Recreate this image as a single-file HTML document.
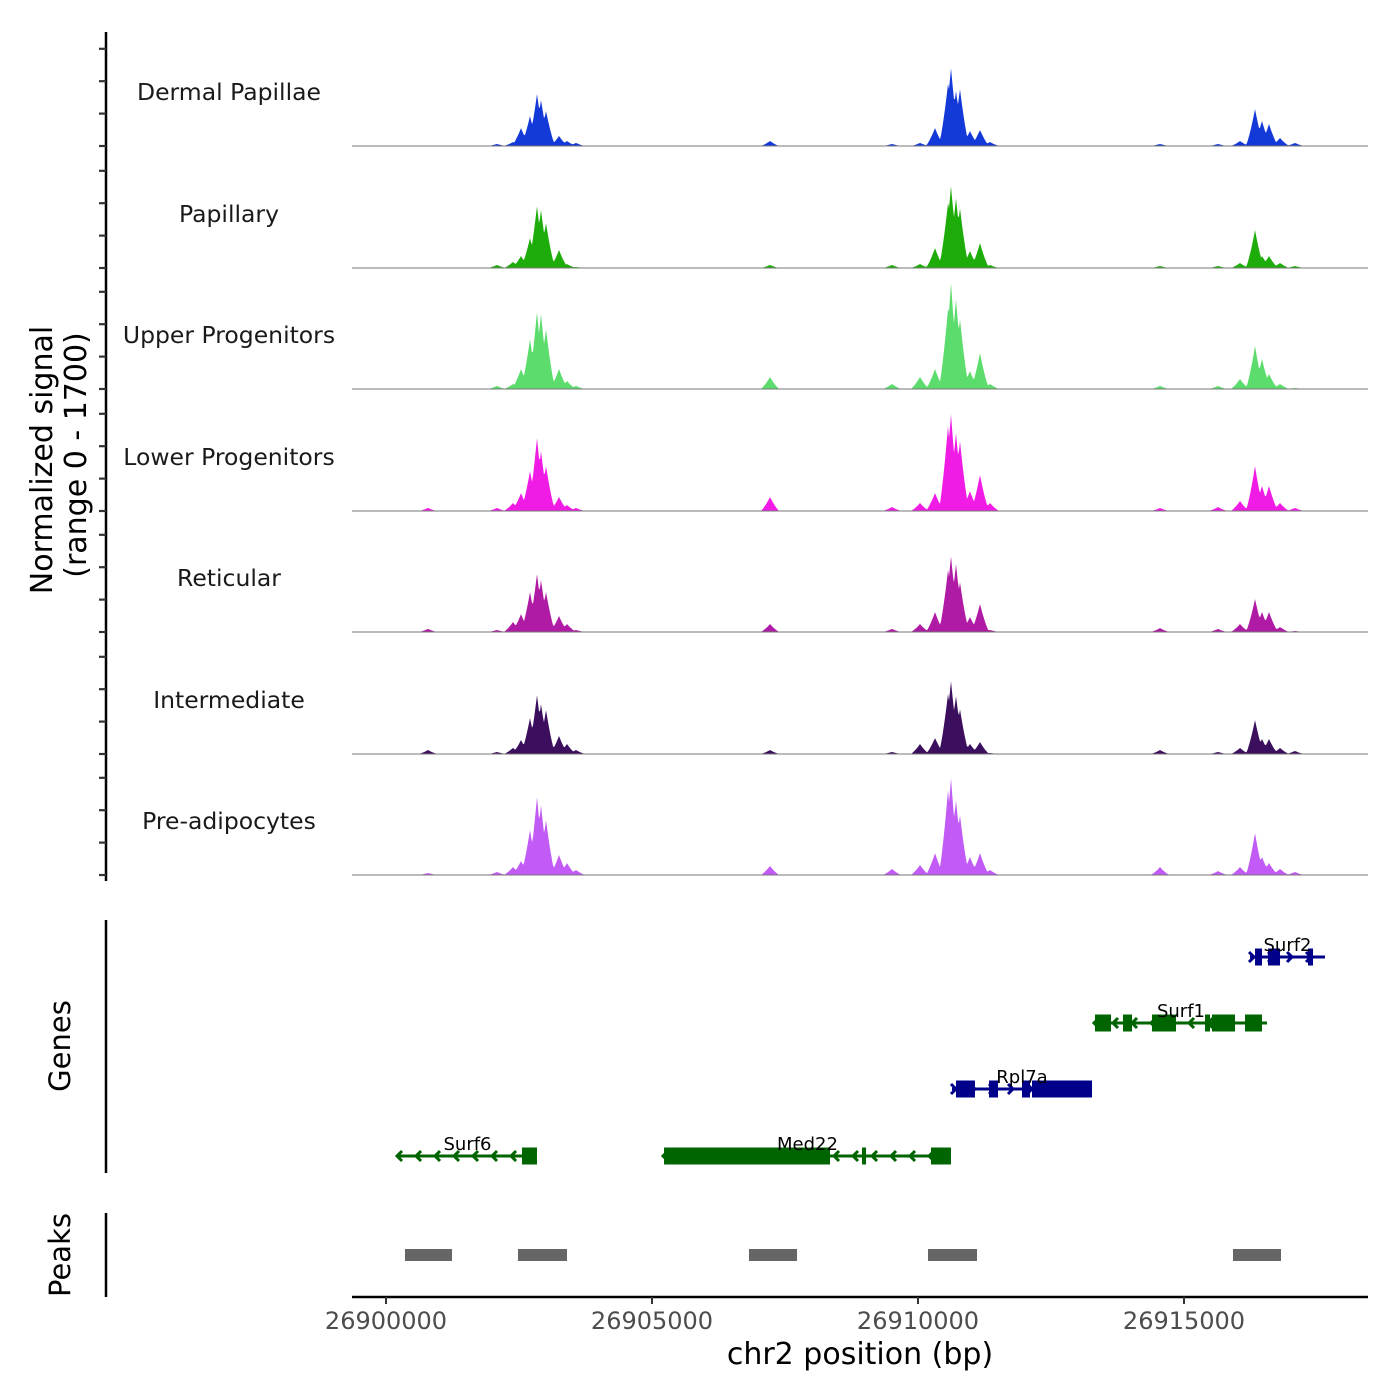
<!DOCTYPE html>
<html><head><meta charset="utf-8"><style>
body{margin:0;background:#fff}
svg{display:block;font-family:"DejaVu Sans","Liberation Sans",sans-serif}
</style></head><body>
<svg id="chart" width="1400" height="1400" viewBox="0 0 1400 1400"></svg>
<script>
const peakPos=[789,2086,2387,2538,2707,2838,2914,3008,3252,3402,3571,7218,9511,10038,10320,10564,10620,10714,10789,10977,11165,11353,14549,15639,16053,16335,16466,16598,16805,17086];
const trackNames=["Dermal Papillae","Papillary","Upper Progenitors","Lower Progenitors","Reticular","Intermediate","Pre-adipocytes"];
const trackColors=["#1439d9","#1eac0a","#5cdc6c","#f01ce6","#b01ba6","#3b0f5e","#c25af5"];
const sigDermal=[0,2,4,18,30,52,46,35,10,5,3,5,2,3,18,62,78,55,57,15,16,4,2,2,5,37,25,22,8,3];
const sigPapillary=[0,3,6,12,30,62,58,45,18,4,1,3,3,4,20,65,82,70,60,17,25,3,2,2,5,38,12,12,5,2];
const sigUpper=[0,3,5,20,50,77,75,60,20,8,3,12,5,12,20,80,106,90,70,18,36,5,3,3,10,43,30,15,5,1];
const sigLower=[3,3,8,18,40,73,60,45,14,6,3,14,4,8,18,85,97,78,70,20,36,8,3,4,10,45,25,25,8,3];
const sigReticular=[3,2,10,18,40,58,52,40,16,8,2,8,3,8,20,62,76,68,50,15,28,2,4,3,8,33,20,20,5,1];
const sigIntermediate=[4,2,6,14,36,59,50,44,18,10,4,4,2,10,16,60,73,58,45,10,12,1,4,2,6,34,15,15,6,3];
const sigPreadipo=[2,3,8,14,45,78,70,55,20,12,5,9,6,10,22,85,97,75,60,18,22,5,8,4,8,42,18,12,6,3];
const trackSignals=[sigDermal,sigPapillary,sigUpper,sigLower,sigReticular,sigIntermediate,sigPreadipo];
const xTicks=[26900000,26905000,26910000,26915000];
const peakStarts=[357,2481,6823,10188,15921];
const peakEnds=[1241,3402,7726,11109,16823];
const geneNames=["Surf6","Med22","Rpl7a","Surf1","Surf2"];
const geneStarts=[226,5226,10639,13327,16241];
const geneEnds=[2838,10620,13271,16560,17650];
const geneStrands=[-1,-1,1,-1,1];
const geneRows=[0,0,1,2,3];
const geneExons=[[[2556,2838]],[[5226,8346],[8947,9023],[10244,10620]],[[10714,11071],[11335,11504],[11955,12105],[12143,13271]],[[13327,13628],[13853,14023],[14398,14850],[15395,15489],[15526,15959],[16147,16466]],[[16335,16466],[16579,16805],[17331,17425]]];

const NS="http://www.w3.org/2000/svg";
const svg=document.getElementById('chart');
function mk(tag,attrs,parent){const e=document.createElementNS(NS,tag);for(const k in attrs)e.setAttribute(k,attrs[k]);(parent||svg).appendChild(e);return e;}
const X0=352,X1=1368,BP0=26900000;
function xs(off){return 386+off*0.0532;}
function xsAbs(bp){return xs(bp-BP0);}
const baselines=[146,268,389,511,632,754,875];
const yMax=121.5,trackH=121.5;

const ax=mk('line',{x1:106,y1:32,x2:106,y2:881,stroke:'#000','stroke-width':2.5});


for(let t=0;t<7;t++){
  for(let k=0;k<4;k++){
    const y=baselines[t]-k*32.4;
    const tk=mk('line',{x1:99,y1:y,x2:106,y2:y,stroke:'#333','stroke-width':2.2});
    
    
  }
}
const yt=mk('text',{x:0,y:0,transform:'translate(52,460) rotate(-90)','text-anchor':'middle','font-size':30});
yt.textContent='Normalized signal';


const yt2=mk('text',{x:0,y:0,transform:'translate(86,455) rotate(-90)','text-anchor':'middle','font-size':30});
yt2.textContent='(range 0 - 1700)';



const HW=170;
for(let t=0;t<7;t++){
  const base=baselines[t];const sig=trackSignals[t];
  let d='M'+X0+','+base;
  for(let px=X0;px<=1325;px+=1){
    const off=(px-386)/0.0532;
    let v=0;
    for(let i=0;i<peakPos.length;i++){
      const dd=Math.abs(off-peakPos[i]);
      if(dd<HW){const r=dd/HW;const h=sig[i]*(1-r)*(1-r*0.3);if(h>v)v=h;}
    }
    d+=' L'+px+','+(base-v/yMax*trackH).toFixed(1);
  }
  d+=' L1325,'+base+' Z';
  const p=mk('path',{d:d,fill:trackColors[t]});
  
  
  const bl=mk('line',{x1:X0,y1:base,x2:X1,y2:base,stroke:'#777','stroke-width':1});
  
  
  const lb=mk('text',{x:229,y:base-46,'text-anchor':'middle','font-size':23.5,fill:'#1a1a1a'});
  lb.textContent=trackNames[t];
  
  
}

const ga=mk('line',{x1:106,y1:920,x2:106,y2:1173,stroke:'#000','stroke-width':2.5});


const gt=mk('text',{x:0,y:0,transform:'translate(70,1046) rotate(-90)','text-anchor':'middle','font-size':29});
gt.textContent='Genes';


const rowY=[1156,1089,1023,957];
for(let g=0;g<geneNames.length;g++){
  const y=rowY[geneRows[g]];
  const col=geneStrands[g]>0?'#00008b':'#006400';
  const x1=xs(geneStarts[g]),x2=xs(geneEnds[g]);
  const ln=mk('line',{x1:x1,y1:y,x2:x2,y2:y,stroke:col,'stroke-width':3});
  
  
  for(let cx=x1+4;cx<=x2;cx+=19){
    const s=geneStrands[g];
    const ch=mk('polyline',{fill:'none',stroke:col,'stroke-width':3});
    if(s<0)ch.setAttribute('points',cx+','+(y-5)+' '+(cx-5)+','+y+' '+cx+','+(y+5));
    else ch.setAttribute('points',(cx-5)+','+(y-5)+' '+cx+','+y+' '+(cx-5)+','+(y+5));
    
    
  }
  for(const ex of geneExons[g]){
    const r=mk('rect',{x:xs(ex[0]),y:y-8.5,width:Math.max(4,xs(ex[1])-xs(ex[0])),height:17,fill:col});
    
    
  }
  const lt=mk('text',{x:(x1+x2)/2,y:y-6,'text-anchor':'middle','font-size':18,fill:'#000'});
  lt.textContent=geneNames[g];
  
  
}

const pa=mk('line',{x1:106,y1:1213,x2:106,y2:1297,stroke:'#000','stroke-width':2.5});


const pt=mk('text',{x:0,y:0,transform:'translate(70,1255) rotate(-90)','text-anchor':'middle','font-size':29});
pt.textContent='Peaks';


for(let i=0;i<peakStarts.length;i++){
  const r=mk('rect',{x:xs(peakStarts[i]),y:1249,width:xs(peakEnds[i])-xs(peakStarts[i]),height:12,fill:'#666'});
  
  
}

const xa=mk('line',{x1:X0,y1:1297,x2:X1,y2:1297,stroke:'#000','stroke-width':2.5});


for(const v of xTicks){
  const x=xsAbs(v);
  const tk=mk('line',{x1:x,y1:1297,x2:x,y2:1304,stroke:'#333','stroke-width':2});
  
  
  const tl=mk('text',{x:x,y:1329,'text-anchor':'middle','font-size':24,fill:'#4d4d4d'});
  tl.textContent=String(v);
  
  
}
const xt=mk('text',{x:860,y:1364,'text-anchor':'middle','font-size':30});
xt.textContent='chr2 position (bp)';


</script>
</body></html>
